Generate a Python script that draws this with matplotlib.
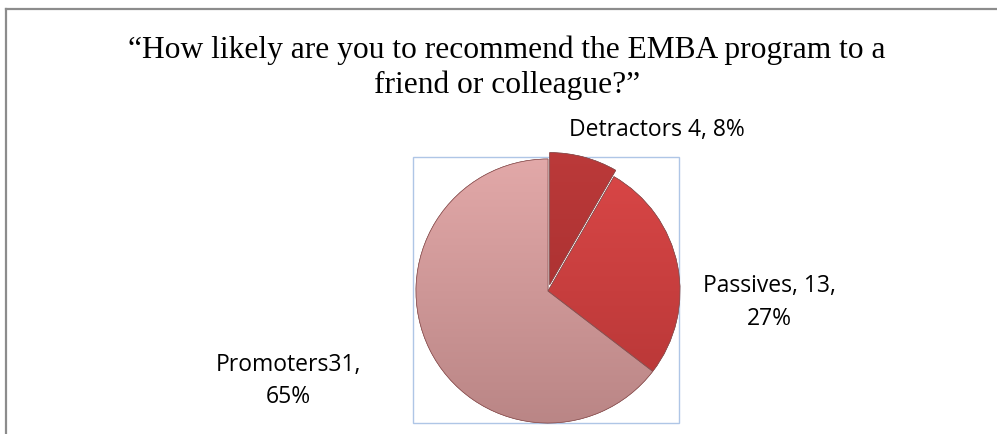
import matplotlib
matplotlib.use("Agg")
import matplotlib.pyplot as plt
import numpy as np
from matplotlib.colors import LinearSegmentedColormap
from matplotlib.patches import Rectangle, Wedge
from matplotlib.lines import Line2D

categories = ["Detractors", "Passives", "Promoters"]
counts = [4, 13, 31]
percents = [8, 27, 65]
label_lines = [["Detractors 4, 8%"], ["Passives, 13,", "27%"], ["Promoters31,", "65%"]]
title_lines = ["\u201cHow likely are you to recommend the EMBA program to a",
               "friend or colleague?\u201d"]
top_colors = ["#BC3A3A", "#DC4848", "#E4AAAA"]
bottom_colors = ["#9E2A2A", "#B23434", "#B88484"]
explode = [0.05, 0, 0]

W, H = 997, 435
fig = plt.figure(figsize=(W / 100, H / 100), dpi=100)
fig.patch.set_facecolor("white")

def px(x, y):
    return x / W, 1 - y / H

# outer frame (top and left edges visible)
fig.add_artist(Line2D([6 / W, 1], [1 - 10 / H, 1 - 10 / H], color="#8C8C8C", lw=1.6,
                      transform=fig.transFigure))
fig.add_artist(Line2D([6 / W, 6 / W], [0, 1 - 10 / H], color="#8C8C8C", lw=1.6,
                      transform=fig.transFigure))

# title
for t, by in zip(title_lines, [58, 92.5]):
    fig.text(*px(507, by), t, ha="center", va="baseline", fontsize=22.7,
             family="Liberation Serif")

cx, cy, r = 548, 292, 132
half = 140
ax = fig.add_axes([(cx - half) / W, (H - cy - half) / H, 2 * half / W, 2 * half / H])
lim = half / r

wedges, _ = ax.pie(counts, startangle=90, counterclock=False, explode=explode,
                   colors=top_colors, radius=1.0,
                   wedgeprops=dict(edgecolor="#7a4a4a", linewidth=0.4))
ax.set_aspect("equal")
ax.axis("off")

grad = np.linspace(1, 0, 256).reshape(-1, 1)
for w, tc, bc in zip(wedges, top_colors, bottom_colors):
    cmap = LinearSegmentedColormap.from_list("g", [bc, tc])
    im = ax.imshow(grad, extent=[-1.1, 1.1, -1.1, 1.1], cmap=cmap, origin="upper",
                   aspect="auto", zorder=w.get_zorder() + 0.1)
    im.set_clip_path(w)
    ec = Wedge(w.center, w.r, w.theta1, w.theta2, fill=False,
               edgecolor="#8a5050", lw=0.5, zorder=im.get_zorder() + 0.1)
    ax.add_patch(ec)

ax.set_xlim(-lim, lim)
ax.set_ylim(-lim, lim)

# plot-area rectangle
x0 = (413 - cx) / r
x1 = (679 - cx) / r
y0 = (cy - 424) / r
y1 = (cy - 158) / r
ax.add_patch(Rectangle((x0, y0), x1 - x0, y1 - y0, fill=False, edgecolor="#AFC6E6",
                       lw=1.0, zorder=0.5, clip_on=False))

# data labels
lab_x = [657, 769, 288]
lab_baselines = [[136], [292, 325], [371, 403]]
for lines, lx, bys in zip(label_lines, lab_x, lab_baselines):
    for t, by in zip(lines, bys):
        fig.text(*px(lx, by), t, ha="center", va="baseline", fontsize=16.5,
                 family="Open Sans", color="#000000")

fig.savefig("out.png", dpi=100, facecolor="white")
